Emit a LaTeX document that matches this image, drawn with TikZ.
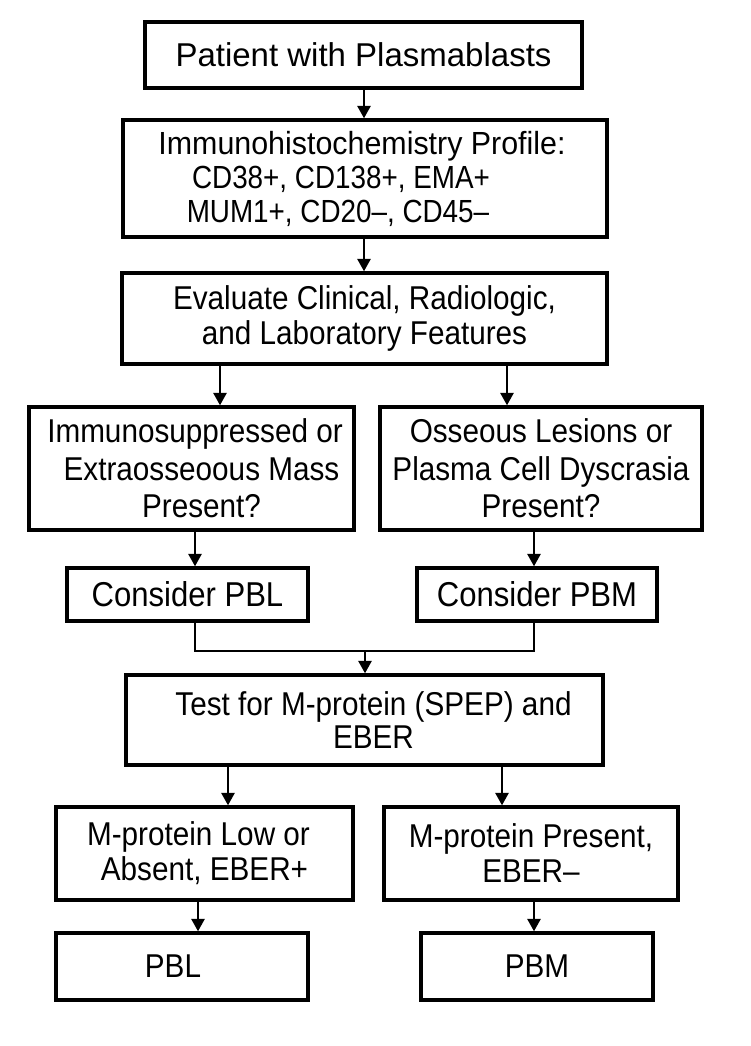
\documentclass[tikz,border=0pt]{standalone}
\usepackage{fontspec}
\setmainfont{Liberation Sans}
\newfontfamily\condfont[FakeStretch=0.9]{Liberation Sans}
\newfontfamily\semicondfont[FakeStretch=0.95]{Liberation Sans}
\newfontfamily\narrowfont[FakeStretch=0.87]{Liberation Sans}
\usetikzlibrary{arrows.meta}
\begin{document}
\begin{tikzpicture}[x=1pt,y=-1pt,
  box/.style={draw, line width=3.3pt, inner sep=0pt, align=center},
  ctxt/.style={font=\condfont\fontsize{33}{35}\selectfont},
  arr/.style={line width=2.7pt, -{Triangle[length=12.5pt,width=13pt]}},
  ln/.style={line width=2.7pt}]
\useasboundingbox (0,0) rectangle (750,1046);
\node[box, minimum width=437pt, minimum height=66pt, font=\fontsize{33}{38}\selectfont] (b1) at (363.5,55) {Patient with Plasmablasts};
\node[box, minimum width=484pt, minimum height=117pt, font=\semicondfont\fontsize{32}{34}\selectfont] (b2) at (365,178.5)
  {\hspace*{-6pt}Immunohistochemistry Profile:\\
   \hspace*{-48pt}{\narrowfont CD38+, CD138+, EMA+}\\
   \hspace*{-54pt}{\narrowfont MUM1+, CD20\textendash, CD45\textendash}};
\node[box, minimum width=485pt, minimum height=91pt, ctxt] (b3) at (364.5,318.5) {Evaluate Clinical, Radiologic,\\and Laboratory Features};
\node[box, minimum width=325pt, minimum height=123pt, ctxt, font=\condfont\fontsize{33}{37.5}\selectfont] (b4l) at (191.5,468.5)
  {\hspace*{7pt}Immunosuppressed or\\\hspace*{20pt}Extraosseoous Mass\\\hspace*{20pt}Present?};
\node[box, minimum width=322pt, minimum height=123pt, ctxt, font=\condfont\fontsize{33}{37.5}\selectfont] (b4r) at (541,468.5)
  {Osseous Lesions or\\Plasma Cell Dyscrasia\\Present?};
\node[box, minimum width=241pt, minimum height=53pt, font=\condfont\fontsize{34.5}{36}\selectfont] (b5l) at (187.5,594.5) {Consider PBL};
\node[box, minimum width=240pt, minimum height=53pt, font=\condfont\fontsize{34.5}{36}\selectfont] (b5r) at (537,594.5) {Consider PBM};
\node[box, minimum width=477pt, minimum height=90pt, ctxt, font=\condfont\fontsize{33}{33}\selectfont] (b6) at (364.5,720)
  {\hspace*{18pt}Test for M-protein (SPEP) and\\\hspace*{18pt}EBER};
\node[box, minimum width=297pt, minimum height=93pt, ctxt] (b7l) at (204.5,853.5) {\hspace*{-12pt}M-protein Low or\\Absent, EBER+};
\node[box, minimum width=294pt, minimum height=93pt, ctxt] (b7r) at (531,853.5) {M-protein Present,\\EBER\textendash};
\node[box, minimum width=252pt, minimum height=67pt, ctxt] (b8l) at (182,966.5) {\hspace*{-18pt}PBL};
\node[box, minimum width=232pt, minimum height=67pt, ctxt] (b8r) at (537,966.5) {PBM};
\coordinate (jl) at (195,651);
\coordinate (jr) at (534,651);
\coordinate (jm) at (365,651);
\draw[arr] (b1.south -| 364,0) -- (b2.north -| 364,0);
\draw[arr] (b2.south -| 364,0) -- (b3.north -| 364,0);
\draw[arr] (b3.south -| 220,0) -- (b4l.north -| 220,0);
\draw[arr] (b3.south -| 507,0) -- (b4r.north -| 507,0);
\draw[arr] (b4l.south -| 195,0) -- (b5l.north -| 195,0);
\draw[arr] (b4r.south -| 534,0) -- (b5r.north -| 534,0);
\draw[ln] (b5l.south -| jl) -- (jl) -- (jr) -- (b5r.south -| jr);
\draw[arr] (jm) -- (b6.north -| jm);
\draw[arr] (b6.south -| 228,0) -- (b7l.north -| 228,0);
\draw[arr] (b6.south -| 502,0) -- (b7r.north -| 502,0);
\draw[arr] (b7l.south -| 198,0) -- (b8l.north -| 198,0);
\draw[arr] (b7r.south -| 534,0) -- (b8r.north -| 534,0);
\end{tikzpicture}
\end{document}
